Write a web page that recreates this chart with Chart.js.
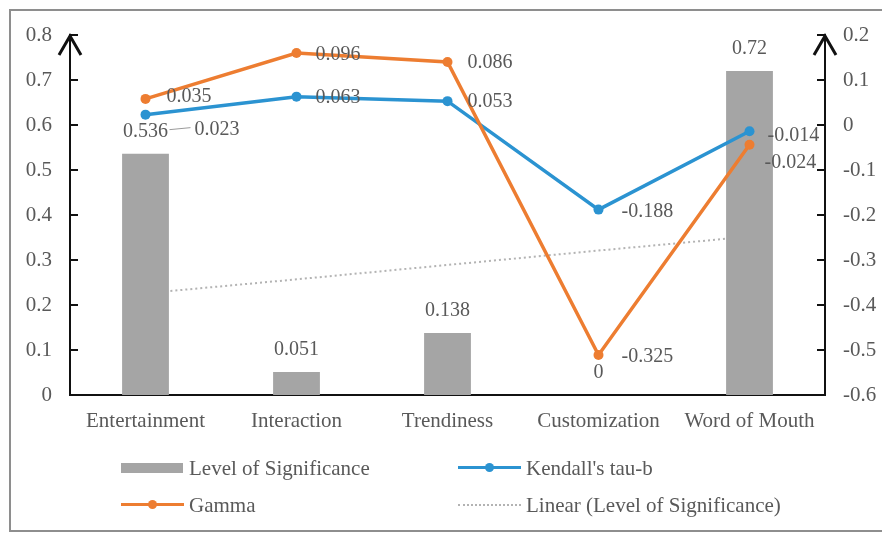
<!DOCTYPE html>
<html>
<head>
<meta charset="utf-8">
<script src="https://cdn.jsdelivr.net/npm/chart.js@4.4.1/dist/chart.umd.min.js"></script>
<style>
  html, body { margin: 0; padding: 0; background: #fff; overflow: hidden; }
  #wrap { position: relative; width: 882px; height: 534px; overflow: hidden; }
  #frame { position: absolute; left: 9px; top: 9px; width: 900px; height: 519px; border: 2px solid #8e8e8e; }
  #chart { position: absolute; left: 0; top: 0; }
  .item { position: absolute; display: flex; align-items: center; height: 24px;
          font: 21px "Liberation Serif", serif; color: #595959; white-space: nowrap; }
  .sw { position: relative; width: 63px; height: 24px; margin-right: 5px; }
  .sw .bar { position: absolute; left: 0; top: 7px; width: 62px; height: 10px; background: #a5a5a5; }
  .sw .ln { position: absolute; left: 0; top: 10px; width: 63px; height: 3px; }
  .sw .dot { position: absolute; left: 27px; top: 7px; width: 9px; height: 9px; border-radius: 50%; }
  .sw .dots { position: absolute; left: 0; top: 11px; width: 63px; border-top: 2px dotted #b3b3b3; }
</style>
</head>
<body>
<div id="wrap">
  <div id="frame"></div>
  <canvas id="chart" width="882" height="534"></canvas>
  <div class="item" style="left:121px; top:456px;"><span class="sw"><span class="bar"></span></span>Level of Significance</div>
  <div class="item" style="left:458px; top:456px;"><span class="sw"><span class="ln" style="background:#2b93d1"></span><span class="dot" style="background:#2b93d1"></span></span>Kendall's tau-b</div>
  <div class="item" style="left:121px; top:493px;"><span class="sw"><span class="ln" style="background:#ed7d31"></span><span class="dot" style="background:#ed7d31"></span></span>Gamma</div>
  <div class="item" style="left:458px; top:493px;"><span class="sw"><span class="dots"></span></span>Linear (Level of Significance)</div>
</div>
<script>
const categories = ['Entertainment', 'Interaction', 'Trendiness', 'Customization', 'Word of Mouth'];
const significance = [0.536, 0.051, 0.138, 0, 0.72];
const kendallTau = [0.023, 0.063, 0.053, -0.188, -0.014];
// gamma points sit where the picture draws them; the printed labels differ
const gammaPlotted = [0.058, 0.16, 0.14, -0.511, -0.044];
const gammaLabels = ['0.035', '0.096', '0.086', '-0.325', '-0.024'];
const trendValues = [0.226, 0.257, 0.289, 0.321, 0.352];
const leftTicks = [0, 0.1, 0.2, 0.3, 0.4, 0.5, 0.6, 0.7, 0.8];
const rightTicks = [-0.6, -0.5, -0.4, -0.3, -0.2, -0.1, 0, 0.1, 0.2];

const BLUE = '#2b93d1', ORANGE = '#ed7d31', GRAY = '#a5a5a5', TEXT = '#595959';
const FONT = '"Liberation Serif", serif';

// label offsets (dx, dy) from each point, left-aligned text
const gammaOffsets = [[21, -2], [19, 2], [20, 1], [23, 2], [15, 18]];
const kendallOffsets = [[49, 15], [19, 1], [20, 1], [23, 2], [18, 4]];

const valueLabels = {
  id: 'valueLabels',
  afterDatasetsDraw(chart) {
    const ctx = chart.ctx;
    ctx.save();
    ctx.font = '20px ' + FONT;
    ctx.fillStyle = TEXT;
    ctx.textBaseline = 'middle';

    ctx.textAlign = 'center';
    chart.getDatasetMeta(0).data.forEach((b, i) => {
      ctx.fillText(String(significance[i]), b.x, b.y - 22);
    });

    ctx.textAlign = 'left';
    chart.getDatasetMeta(1).data.forEach((p, i) => {
      const [dx, dy] = kendallOffsets[i];
      ctx.fillText(String(kendallTau[i]), p.x + dx, p.y + dy);
    });
    chart.getDatasetMeta(2).data.forEach((p, i) => {
      const [dx, dy] = gammaOffsets[i];
      ctx.fillText(gammaLabels[i], p.x + dx, p.y + dy);
    });

    // leader line for the first Kendall label
    const p0 = chart.getDatasetMeta(1).data[0];
    ctx.strokeStyle = '#9a9a9a';
    ctx.lineWidth = 1;
    ctx.beginPath();
    ctx.moveTo(p0.x + 24, p0.y + 15);
    ctx.lineTo(p0.x + 45, p0.y + 13);
    ctx.stroke();
    ctx.restore();
  }
};

const axisDecor = {
  id: 'axisDecor',
  afterDraw(chart) {
    const ctx = chart.ctx;
    const { top } = chart.chartArea;
    ctx.save();
    ctx.strokeStyle = '#111';
    ctx.lineWidth = 2;
    [['y', 1], ['y1', -1]].forEach(([id, dir]) => {
      const s = chart.scales[id];
      const x = id === 'y' ? s.right : s.left;
      s.ticks.forEach(t => {
        const ty = s.getPixelForValue(t.value);
        ctx.beginPath();
        ctx.moveTo(x, ty);
        ctx.lineTo(x + dir * 8, ty);
        ctx.stroke();
      });
      ctx.lineWidth = 3;
      ctx.beginPath();
      ctx.moveTo(x - 11, top + 20);
      ctx.lineTo(x, top + 1);
      ctx.lineTo(x + 11, top + 20);
      ctx.stroke();
      ctx.lineWidth = 2;
    });
    ctx.restore();
  }
};

new Chart(document.getElementById('chart'), {
  data: {
    labels: categories,
    datasets: [
      { type: 'bar', label: 'Level of Significance', data: significance, yAxisID: 'y',
        backgroundColor: GRAY, barPercentage: 0.31, categoryPercentage: 1, order: 3 },
      { type: 'line', label: "Kendall's tau-b", data: kendallTau, yAxisID: 'y1',
        borderColor: BLUE, backgroundColor: BLUE, borderWidth: 3.5, pointRadius: 5,
        pointBorderWidth: 0, tension: 0, order: 2 },
      { type: 'line', label: 'Gamma', data: gammaPlotted, yAxisID: 'y1',
        borderColor: ORANGE, backgroundColor: ORANGE, borderWidth: 3.5, pointRadius: 5,
        pointBorderWidth: 0, tension: 0, order: 1 },
      { type: 'line', label: 'Linear (Level of Significance)', data: trendValues, yAxisID: 'y',
        borderColor: '#b3b3b3', borderWidth: 2, borderDash: [2, 3], pointRadius: 0,
        tension: 0, order: 4 }
    ]
  },
  options: {
    responsive: false,
    animation: false,
    devicePixelRatio: 1,
    layout: { padding: { top: 35, bottom: 99, left: 0, right: 0 } },
    plugins: { legend: { display: false }, tooltip: { enabled: false } },
    scales: {
      x: {
        offset: true,
        grid: { display: false, drawTicks: false },
        border: { display: true, color: '#111', width: 2 },
        ticks: { color: TEXT, font: { family: FONT, size: 21 }, padding: 14, maxRotation: 0, autoSkip: false },
        afterFit: s => { s.height = 40; }
      },
      y: {
        position: 'left', min: 0, max: 0.8,
        afterBuildTicks: s => { s.ticks = leftTicks.map(v => ({ value: v })); },
        grid: { display: false, drawTicks: false },
        border: { display: true, color: '#111', width: 2 },
        ticks: { color: TEXT, font: { family: FONT, size: 21 }, padding: 18 },
        afterFit: s => { s.width = 70; }
      },
      y1: {
        position: 'right', min: -0.6, max: 0.2,
        afterBuildTicks: s => { s.ticks = rightTicks.map(v => ({ value: v })); },
        grid: { display: false, drawTicks: false },
        border: { display: true, color: '#111', width: 2 },
        ticks: { color: TEXT, font: { family: FONT, size: 21 }, padding: 18 },
        afterFit: s => { s.width = 57; }
      }
    }
  },
  plugins: [valueLabels, axisDecor]
});
</script>
</body>
</html>
